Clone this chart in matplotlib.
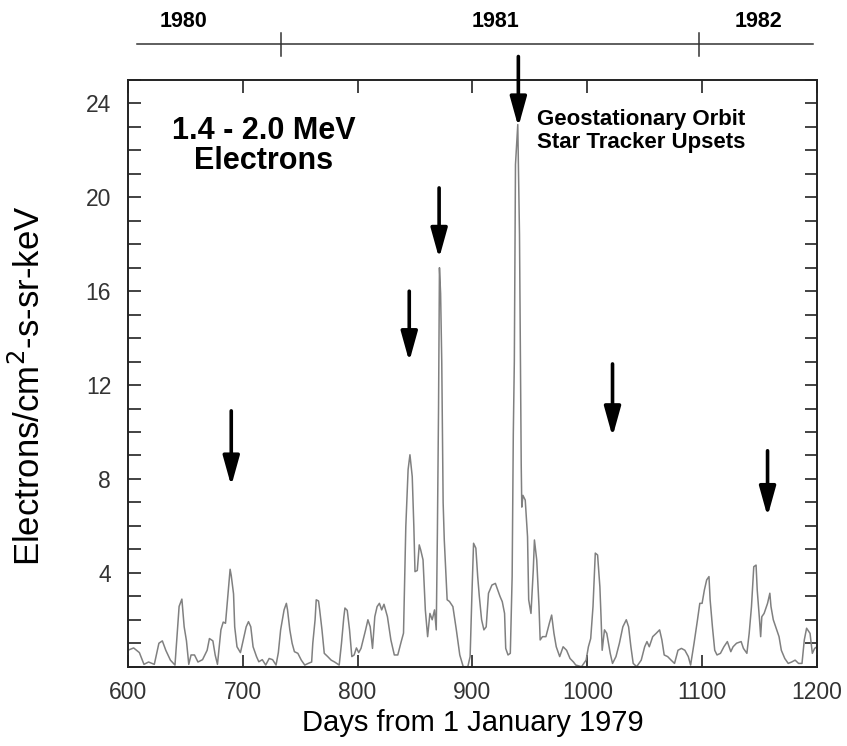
import numpy as np
import matplotlib
matplotlib.use("Agg")
import matplotlib.pyplot as plt
from matplotlib.ticker import MultipleLocator

plt.rcParams['font.family'] = ['Liberation Sans', 'DejaVu Sans']

# electron flux (day from 1 Jan 1979, flux)
days = [601, 605, 610, 614, 618, 623, 627, 630, 633, 637, 641, 644.6, 647, 649, 651, 653,
        655, 658, 661, 665, 669, 671, 674, 676, 678, 681, 683, 685, 687, 689, 690, 692,
        693, 695, 698, 700.5, 703, 705, 707, 709, 712, 714, 717, 720, 723, 726, 729, 731,
        733, 736, 738, 739, 741, 743, 745, 748, 751, 754, 757, 760, 761, 763, 764, 766,
        767, 769, 771, 774, 777, 780, 784, 786, 788, 789, 791, 793, 795, 797, 799, 801,
        803, 807, 809, 811, 813, 815, 817, 819, 821, 823, 826, 829, 832, 835, 838, 840,
        842, 844, 845.6, 847.6, 849, 850, 852, 853.7, 855, 857, 859, 861, 863, 865, 867,
        868.5, 869.5, 870.5, 871.3, 872.3, 873.3, 874.5, 875.5, 878, 880, 883, 886, 889,
        892, 896, 898, 899.6, 901, 903, 904.6, 906, 908, 910, 912, 914, 917, 920, 922,
        924, 926, 928, 929, 931, 933, 934.6, 935.6, 936.5, 937.5, 939.5, 941, 941.8,
        942.5, 943, 944, 946, 948, 949, 951, 953, 954, 956, 958, 959, 961, 964, 967, 969,
        971, 973, 976, 979, 982, 985, 988, 990, 995, 999, 1001, 1003, 1005, 1007, 1009,
        1011, 1012, 1013, 1015, 1017, 1020, 1022, 1025, 1028, 1031, 1034, 1036, 1038,
        1040, 1043, 1047, 1050, 1052, 1054, 1057, 1060, 1063, 1065, 1067, 1070, 1073,
        1076, 1079, 1082, 1085, 1088, 1090, 1093, 1096, 1098, 1100, 1102, 1104, 1106,
        1107, 1109, 1111, 1113, 1116, 1119, 1122, 1125, 1127, 1130, 1134, 1136, 1139,
        1141, 1143, 1145, 1147, 1148, 1150, 1151, 1152, 1154, 1157, 1159, 1160, 1162,
        1165, 1167, 1169, 1172, 1175, 1178, 1181, 1184, 1187, 1189, 1191, 1194, 1196,
        1198, 1200]
flux = [0.72, 0.8, 0.6, 0.1, 0.2, 0.1, 1.0, 1.1, 0.7, 0.28, 0.07, 2.57, 2.88, 1.7, 1.1, 0.1,
        0.5, 0.5, 0.2, 0.3, 0.7, 1.2, 1.1, 0.5, 0.1, 1.57, 1.9, 1.85, 3.0, 4.15, 3.88, 3.1,
        1.7, 0.85, 0.6, 1.14, 1.7, 1.92, 1.7, 0.85, 0.43, 0.21, 0.3, 0.07, 0.35, 0.3, 0.07, 0.6,
        1.57, 2.42, 2.7, 2.42, 1.57, 1.0, 0.64, 0.57, 0.28, 0.07, 0.14, 0.2, 1.0, 2.0, 2.85, 2.8,
        2.42, 1.57, 0.57, 0.43, 0.28, 0.2, 0.07, 1.0, 2.1, 2.5, 2.4, 1.57, 0.43, 0.5, 0.8, 0.6,
        0.78, 1.57, 2.0, 1.7, 0.78, 2.13, 2.56, 2.7, 2.42, 2.66, 2.13, 1.14, 0.5, 0.5, 1.07, 1.43,
        5.97, 8.4, 9.03, 8.1, 5.97, 4.05, 4.1, 5.19, 4.97, 4.55, 2.42, 1.28, 2.27, 2.0, 2.42,
        1.57, 5.7, 11.0, 17.0, 15.9, 13.0, 7.0, 5.4, 2.85, 2.78, 2.56, 1.57, 0.5,
        0.0, 0.0, 0.43, 3.13, 5.26, 5.05, 3.84, 3.0, 2.0, 1.57, 1.7, 3.13, 3.48, 3.55, 3.27,
        3.0, 2.77, 2.27, 0.78, 0.5, 0.57, 3.84, 9.9, 13.0, 21.4, 23.1, 18.4, 13.2,
        8.6, 6.8, 7.3, 7.1, 5.54, 2.85, 2.27, 4.12, 5.4, 4.55, 2.56, 1.14, 1.28, 1.28, 1.85, 2.2,
        1.42, 0.85, 0.43, 0.85, 0.7, 0.35, 0.2, 0.07, 0.0, 0.28, 0.85, 1.2, 2.56, 4.84, 4.76,
        3.4, 2.13, 0.7, 1.57, 1.42, 0.57, 0.14, 0.43, 1.0, 1.7, 2.0, 1.7, 0.85,
        0.14, 0.0, 0.28, 0.85, 1.07, 0.85, 1.28, 1.42, 1.57, 1.14, 0.5, 0.43, 0.28,
        0.14, 0.7, 0.78, 0.7, 0.43, 0.07, 1.0, 2.0, 2.7, 2.7, 3.27, 3.7, 3.84,
        2.85, 1.7, 0.7, 0.5, 0.57, 0.85, 1.07, 0.64, 0.85, 1.0, 1.07, 0.78, 0.57,
        1.42, 2.56, 4.26, 4.33, 3.27, 2.0, 1.28, 2.13, 2.27, 2.7, 3.13, 2.56, 2.0,
        1.57, 1.28, 0.7, 0.35, 0.14, 0.2, 0.28, 0.14, 0.14, 1.14, 1.64, 1.42, 0.57,
        0.78, 0.85]

# star tracker upset arrows: day, tail value, tip value
arrow_days = [690, 845, 871, 940, 1022, 1157]
arrow_tail = [10.9, 16.0, 20.4, 26.0, 12.9, 9.2]
arrow_tip = [7.7, 13.0, 17.4, 23.0, 9.8, 6.4]

# calendar bar on top
year_bounds = [733, 1097]
year_labels = ['1980', '1981', '1982']
year_label_days = [648, 920, 1149]

fig = plt.figure(figsize=(8.47, 7.46), dpi=100)
ax = fig.add_axes([0.151, 0.1063, 0.8135, 0.7865])

ax.plot(days, flux, color='#808080', lw=1.1)

for d, t0, t1 in zip(arrow_days, arrow_tail, arrow_tip):
    ax.annotate('', xy=(d, t1), xytext=(d, t0), annotation_clip=False,
                arrowprops=dict(arrowstyle='-|>,head_width=0.25,head_length=0.9',
                                lw=2.6, color='black', mutation_scale=20,
                                shrinkA=0, shrinkB=0))

ax.set_xlim(600, 1200)
ax.set_ylim(0, 25)
ax.xaxis.set_major_locator(MultipleLocator(100))
ax.yaxis.set_minor_locator(MultipleLocator(1))
ax.set_yticks([4, 8, 12, 16, 20, 24])
ax.tick_params(which='both', direction='in', top=True, right=True, length=9,
               width=1.2, labelsize=16.5, labelcolor='#333333', color='#222222')
ax.tick_params(axis='x', pad=10)
ax.tick_params(axis='y', pad=12)
for s in ax.spines.values():
    s.set_linewidth(1.4)
    s.set_color('#222222')

ax.set_xlabel('Days from 1 January 1979', fontsize=21, labelpad=4)
ax.set_ylabel('Electrons/cm$^{2}$-s-sr-keV', fontsize=25, labelpad=28)
ax.yaxis.label.set_y(0.478)

ax.text(0.197, 0.938, '1.4 - 2.0 MeV\nElectrons', transform=ax.transAxes,
        ha='center', va='top', fontsize=22, fontweight='bold', linespacing=1.0)
ax.text(0.594, 0.950, 'Geostationary Orbit\nStar Tracker Upsets', transform=ax.transAxes,
        ha='left', va='top', fontsize=16, fontweight='bold', linespacing=1.08)

# calendar bar
trans = ax.get_xaxis_transform()
ax.plot([608, 1197], [1.061, 1.061], transform=trans, color='#333333', lw=1.1, clip_on=False)
for b in year_bounds:
    ax.plot([b, b], [1.041, 1.080], transform=trans, color='#333333', lw=1.1, clip_on=False)
for lab, d in zip(year_labels, year_label_days):
    ax.text(d, 1.100, lab, transform=trans, ha='center', va='center',
            fontsize=15.5, fontweight='bold')

fig.savefig('out.png', dpi=100)
